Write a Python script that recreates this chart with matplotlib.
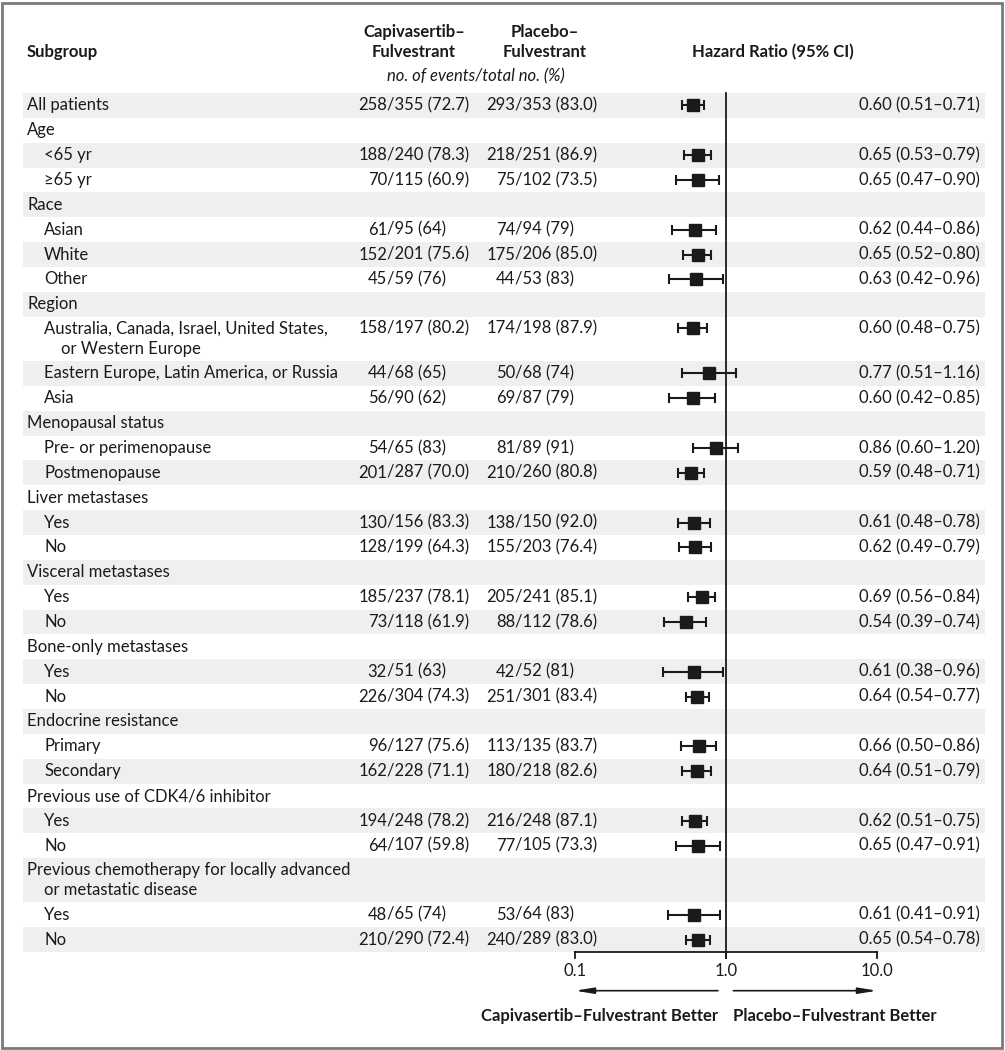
import numpy as np
import matplotlib
import matplotlib.pyplot as plt
from matplotlib.patches import Rectangle
from matplotlib.transforms import blended_transform_factory

matplotlib.use("Agg")

plt.rcParams['font.family'] = ['Lato', 'DejaVu Sans']

labels = ["All patients", "Age", "<65 yr", "\u226565 yr", "Race", "Asian", "White", "Other",
          "Region", "Australia, Canada, Israel, United States,\n    or Western Europe",
          "Eastern Europe, Latin America, or Russia", "Asia",
          "Menopausal status", "Pre- or perimenopause", "Postmenopause",
          "Liver metastases", "Yes", "No",
          "Visceral metastases", "Yes", "No",
          "Bone-only metastases", "Yes", "No",
          "Endocrine resistance", "Primary", "Secondary",
          "Previous use of CDK4/6 inhibitor", "Yes", "No",
          "Previous chemotherapy for locally advanced\n    or metastatic disease", "Yes", "No"]
indent = [0, 0, 1, 1, 0, 1, 1, 1, 0, 1, 1, 1, 0, 1, 1, 0, 1, 1, 0, 1, 1,
          0, 1, 1, 0, 1, 1, 0, 1, 1, 0, 1, 1]
capi = ["258/355 (72.7)", None, "188/240 (78.3)", "70/115 (60.9)", None, "61/95 (64)",
        "152/201 (75.6)", "45/59 (76)", None, "158/197 (80.2)", "44/68 (65)", "56/90 (62)",
        None, "54/65 (83)", "201/287 (70.0)", None, "130/156 (83.3)", "128/199 (64.3)",
        None, "185/237 (78.1)", "73/118 (61.9)", None, "32/51 (63)", "226/304 (74.3)",
        None, "96/127 (75.6)", "162/228 (71.1)", None, "194/248 (78.2)", "64/107 (59.8)",
        None, "48/65 (74)", "210/290 (72.4)"]
placebo = ["293/353 (83.0)", None, "218/251 (86.9)", "75/102 (73.5)", None, "74/94 (79)",
           "175/206 (85.0)", "44/53 (83)", None, "174/198 (87.9)", "50/68 (74)", "69/87 (79)",
           None, "81/89 (91)", "210/260 (80.8)", None, "138/150 (92.0)", "155/203 (76.4)",
           None, "205/241 (85.1)", "88/112 (78.6)", None, "42/52 (81)", "251/301 (83.4)",
           None, "113/135 (83.7)", "180/218 (82.6)", None, "216/248 (87.1)", "77/105 (73.3)",
           None, "53/64 (83)", "240/289 (83.0)"]
nan = np.nan
hr = [0.60, nan, 0.65, 0.65, nan, 0.62, 0.65, 0.63, nan, 0.60, 0.77, 0.60, nan, 0.86, 0.59,
      nan, 0.61, 0.62, nan, 0.69, 0.54, nan, 0.61, 0.64, nan, 0.66, 0.64, nan, 0.62, 0.65,
      nan, 0.61, 0.65]
lo = [0.51, nan, 0.53, 0.47, nan, 0.44, 0.52, 0.42, nan, 0.48, 0.51, 0.42, nan, 0.60, 0.48,
      nan, 0.48, 0.49, nan, 0.56, 0.39, nan, 0.38, 0.54, nan, 0.50, 0.51, nan, 0.51, 0.47,
      nan, 0.41, 0.54]
hi = [0.71, nan, 0.79, 0.90, nan, 0.86, 0.80, 0.96, nan, 0.75, 1.16, 0.85, nan, 1.20, 0.71,
      nan, 0.78, 0.79, nan, 0.84, 0.74, nan, 0.96, 0.77, nan, 0.86, 0.79, nan, 0.75, 0.91,
      nan, 0.91, 0.78]
ticks = [0.1, 1.0, 10.0]
tick_labels = ["0.1", "1.0", "10.0"]

W, H = 1005, 1050
ROW = 24.86     # px per row unit
TOP = 93        # px of first row top
PX_DEC = 151    # px per decade on the HR scale
X_ONE = 726     # px of HR = 1

fig = plt.figure(figsize=(W / 100, H / 100), dpi=100)
ax = fig.add_axes([0, 0, 1, 1])
ax.set_xscale("log")
ax.set_xlim(10 ** (-X_ONE / PX_DEC), 10 ** ((W - X_ONE) / PX_DEC))
ax.set_ylim((H - TOP) / ROW, -TOP / ROW)
ax.axis("off")
tr = blended_transform_factory(ax.transAxes, ax.transData)


def fx(px):
    return px / W


FS = 12
INK = "#1a1a1a"
heights = [1.78 if "\n" in lab else 1.0 for lab in labels]
tops = np.concatenate([[0], np.cumsum(heights)[:-1]])
bottom = float(np.sum(heights))

for i, lab in enumerate(labels):
    y0 = tops[i]
    h = heights[i]
    if i % 2 == 0:
        ax.add_patch(Rectangle((fx(23), y0), fx(985) - fx(23), h, transform=tr,
                               facecolor="#efefef", edgecolor="none", zorder=0))
    yc = y0 + 0.5 if h == 1 else y0 + 0.45
    ax.text(fx(44 if indent[i] else 27), y0 + 0.5 if h == 1 else y0 + 0.88, lab,
            transform=tr, ha="left", va="center", fontsize=FS, linespacing=1.3,
            color=INK)
    for col, sx in ((capi, 387), (placebo, 515)):
        if col[i]:
            num, rest = col[i].split("/", 1)
            ax.text(fx(sx), yc, num, transform=tr, ha="right", va="center",
                    fontsize=FS, color=INK)
            ax.text(fx(sx), yc, "/" + rest, transform=tr, ha="left", va="center",
                    fontsize=FS, color=INK)
    if not np.isnan(hr[i]):
        ax.text(fx(980), yc, f"{hr[i]:.2f} ({lo[i]:.2f}\u2013{hi[i]:.2f})", transform=tr,
                ha="right", va="center", fontsize=FS, color=INK)
        ax.errorbar(hr[i], yc, xerr=[[hr[i] - lo[i]], [hi[i] - hr[i]]], fmt="s",
                    color=INK, ms=8.5, capsize=3.5, elinewidth=1.5, capthick=1.5,
                    zorder=3)

# reference line and axis
ax.plot([1, 1], [0, bottom + 0.25], color=INK, lw=1.3, zorder=2)
ax.plot([ticks[0], ticks[-1]], [bottom, bottom], color=INK, lw=1.3)
for t, tl in zip(ticks, tick_labels):
    ax.plot([t, t], [bottom, bottom + 0.25], color=INK, lw=1.3)
    ax.text(t, bottom + 0.74, tl, ha="center", va="center", fontsize=FS, color=INK)

ya = bottom + 1.55
arrow = dict(arrowstyle="-|>,head_length=1.1,head_width=0.18",
             color=INK, lw=1.2, shrinkA=0, shrinkB=0)
ax.annotate("", xy=(0.1, ya), xytext=(0.885, ya), arrowprops=arrow)
ax.annotate("", xy=(10, ya), xytext=(1.12, ya), arrowprops=arrow)
ax.text(0.885, bottom + 2.55, "Capivasertib\u2013Fulvestrant Better", ha="right",
        va="center", fontsize=FS, fontweight="bold", color=INK)
ax.text(1.12, bottom + 2.55, "Placebo\u2013Fulvestrant Better", ha="left",
        va="center", fontsize=FS, fontweight="bold", color=INK)

# headers
hy1 = (32 - TOP) / ROW
hy2 = (52 - TOP) / ROW
hy3 = (76 - TOP) / ROW
hdr = dict(transform=tr, va="center", fontsize=FS, fontweight="bold", color=INK)
ax.text(fx(27), hy2, "Subgroup", ha="left", **hdr)
ax.text(fx(414), hy1, "Capivasertib\u2013", ha="center", **hdr)
ax.text(fx(414), hy2, "Fulvestrant", ha="center", **hdr)
ax.text(fx(545), hy1, "Placebo\u2013", ha="center", **hdr)
ax.text(fx(545), hy2, "Fulvestrant", ha="center", **hdr)
ax.text(fx(773), hy2, "Hazard Ratio (95% CI)", ha="center", **hdr)
ax.text(fx(476), hy3, "no. of events/total no. (%)", transform=tr, ha="center",
        va="center", fontsize=FS, style="italic", color=INK)

fig.patches.append(Rectangle((0.002, 0.002), 0.995, 0.995, transform=fig.transFigure,
                             fill=False, edgecolor="#7a7a7a", lw=2))

fig.savefig("out.png", dpi=100)
